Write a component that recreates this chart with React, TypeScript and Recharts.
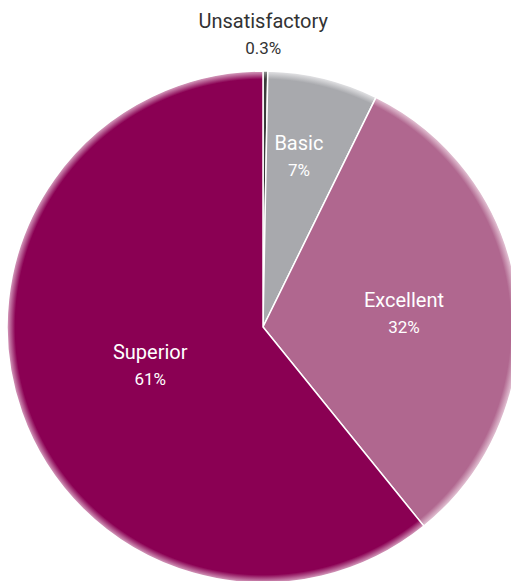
import React from "react";
import { PieChart, Pie, Cell } from "recharts";

const categories = ["Unsatisfactory", "Basic", "Excellent", "Superior"];
const shares = [0.3, 7, 32, 61];
const shareLabels = ["0.3%", "7%", "32%", "61%"];

const colors = ["#3b3b3b", "#a8a9ad", "#b0678f", "#8a0053"];
const rimColors = ["#9a9a9a", "#e6e6e8", "#e6c8d8", "#d9a6c3"];

// label placement: radius from centre and small angle nudge (deg)
const labelPlace: Record<string, { r: number; da: number; outside?: boolean }> = {
    Unsatisfactory: { r: 296, da: 0.5, outside: true },
    Basic: { r: 178, da: 2 },
    Excellent: { r: 142, da: 0.5 },
    Superior: { r: 118, da: -2.3 },
};

const data = categories.map((name, i) => ({ name, value: shares[i], label: shareLabels[i] }));

const RADIAN = Math.PI / 180;
const FONT = "Roboto, 'Liberation Sans', sans-serif";

const renderLabel = (props: any) => {
    const { cx, cy, midAngle, index } = props;
    const item = data[index];
    const p = labelPlace[item.name];
    const a = midAngle + p.da;
    const x = cx + p.r * Math.cos(-a * RADIAN);
    const y = cy + p.r * Math.sin(-a * RADIAN);
    const fill = p.outside ? "#333333" : "#ffffff";
    return (
        <g>
            <text x={x} y={y - 3} textAnchor="middle" fill={fill} fontFamily={FONT} fontSize={20}>
                {item.name}
            </text>
            <text x={x} y={y + 23} textAnchor="middle" fill={fill} fontFamily={FONT} fontSize={17}>
                {item.label}
            </text>
        </g>
    );
};

export default function App() {
    return (
        <div style={{ position: "absolute", left: 0, top: 0, width: 511, height: 581, background: "#fff" }}>
            <PieChart width={511} height={581} margin={{ top: 0, right: 0, bottom: 0, left: 0 }}>
                <defs>
                    {colors.map((c, i) => (
                        <radialGradient
                            key={`g-${i}`}
                            id={`rim-${i}`}
                            gradientUnits="userSpaceOnUse"
                            cx={263}
                            cy={327}
                            r={256}
                        >
                            <stop offset="0" stopColor={c} />
                            <stop offset="0.968" stopColor={c} />
                            <stop offset="1" stopColor={rimColors[i]} />
                        </radialGradient>
                    ))}
                </defs>
                <Pie
                    data={data}
                    dataKey="value"
                    nameKey="name"
                    cx={263}
                    cy={327}
                    innerRadius={0}
                    outerRadius={256}
                    startAngle={90}
                    endAngle={-270}
                    stroke="#ffffff"
                    strokeWidth={1.5}
                    label={renderLabel}
                    labelLine={false}
                    isAnimationActive={false}
                >
                    {data.map((d, i) => (
                        <Cell key={`cell-${d.name}`} fill={`url(#rim-${i})`} />
                    ))}
                </Pie>
            </PieChart>
        </div>
    );
}
